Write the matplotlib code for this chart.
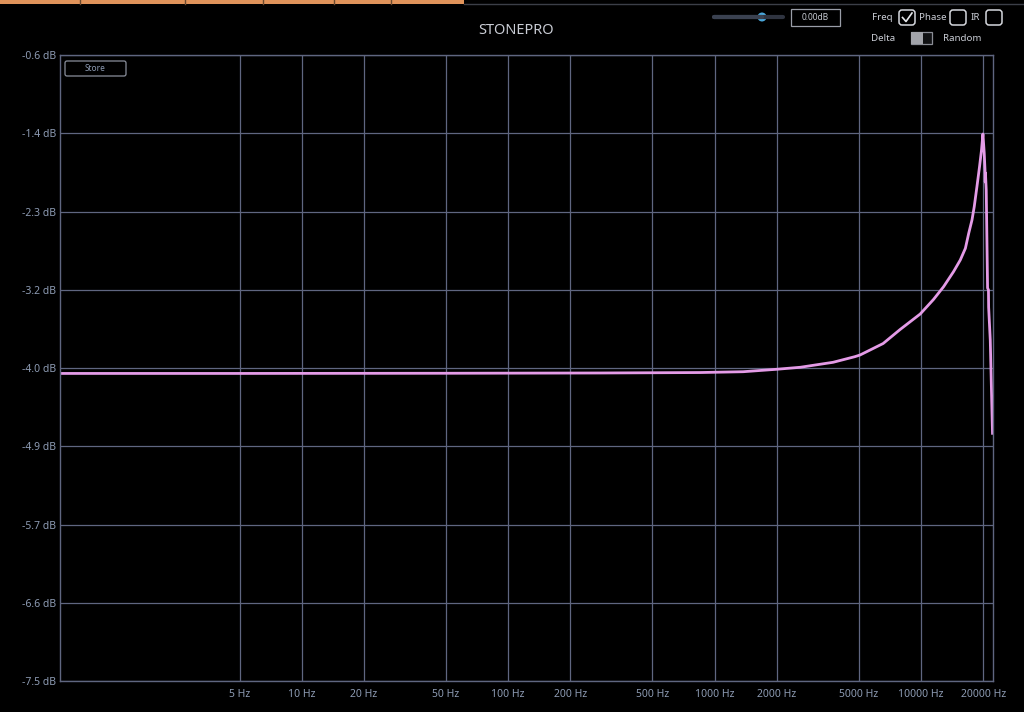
import numpy as np
import matplotlib
matplotlib.use("Agg")
import matplotlib.pyplot as plt
from matplotlib.patches import Rectangle, FancyBboxPatch, Circle

plt.rcParams['font.family'] = ['Noto Sans', 'DejaVu Sans']

# frequency response
freq_hz = [0.675, 5, 50, 279, 851, 1374, 2000, 2600, 3750, 4780, 5060,
           6550, 7920, 9900, 11480, 12850, 14360, 15480, 16390, 17010,
           17640, 18090, 18640, 19190, 19620, 19930, 20220, 20400, 20450,
           20500, 20680, 20990, 21200, 21240, 21630, 22180]
gain_db = [-4.11, -4.11, -4.108, -4.105, -4.100, -4.091, -4.064, -4.042,
           -3.987, -3.925, -3.907, -3.78, -3.625, -3.455, -3.295, -3.154,
           -2.988, -2.860, -2.731, -2.565, -2.419, -2.272, -2.052, -1.831,
           -1.647, -1.471, -1.680, -1.87, -2.00, -1.90, -2.088, -3.168,
           -3.19, -3.38, -3.741, -4.77]

x_ticks = [5, 10, 20, 50, 100, 200, 500, 1000, 2000, 5000, 10000, 20000]
x_labels = [f"{v} Hz" for v in x_ticks]
y_labels = ["-0.6 dB", "-1.4 dB", "-2.3 dB", "-3.2 dB", "-4.0 dB",
            "-4.9 dB", "-5.7 dB", "-6.6 dB", "-7.5 dB"]

grid_col = '#5f6680'
text_col = '#8d9bb3'
curve_col = '#e49be7'

fig = plt.figure(figsize=(10.24, 7.12), dpi=100, facecolor='black')
ax = fig.add_axes([60 / 1024, 1 - 681 / 712, 933 / 1024, 626 / 712])
ax.set_facecolor('black')

ax.plot(freq_hz, gain_db, color=curve_col, lw=2, solid_joinstyle='round')

ax.set_xscale('log')
ax.set_xlim(0.675, 22300)
ax.set_ylim(-7.5, -0.6)
ax.set_xticks(x_ticks)
ax.set_xticklabels(x_labels)
ax.minorticks_off()
ax.set_yticks(np.linspace(-0.6, -7.5, len(y_labels)))
ax.set_yticklabels(y_labels)
ax.tick_params(length=0, colors=text_col, labelsize=7.5)
ax.tick_params(axis='x', pad=6)
ax.tick_params(axis='y', pad=3)
ax.grid(True, color=grid_col, lw=0.9)
for s in ax.spines.values():
    s.set_color(grid_col)
    s.set_linewidth(1)

# overlay for the plugin UI bits, in pixel coordinates
ui = fig.add_axes([0, 0, 1, 1], facecolor='none')
ui.set_xlim(0, 1024)
ui.set_ylim(712, 0)
ui.axis('off')

ui.add_patch(Rectangle((0, 0), 464, 3.5, color='#e0935a', lw=0))
for xd in [80, 185, 263, 334, 391]:
    ui.plot([xd, xd], [0, 3.5], color='#6b4a30', lw=1)
ui.plot([464, 1024], [3.5, 3.5], color='#3c3f48', lw=1)

ui.text(516, 30, "STONEPRO", color='#c9ccd4', fontsize=10.5,
        ha='center', va='center')

ui.add_patch(FancyBboxPatch((65, 61), 61, 15, boxstyle="round,pad=0,rounding_size=2",
                            fc='none', ec='#8a8f9c', lw=0.9))
ui.text(95.5, 68.5, "Store", color=text_col, fontsize=6, ha='center', va='center')

# slider
ui.plot([714, 783], [17, 17], color='#2f3440', lw=3, solid_capstyle='round')
ui.plot([714, 762], [17, 17], color='#3a4150', lw=3, solid_capstyle='round')
ui.add_patch(Circle((762, 17), 3.8, color='#4aa8dc'))
ui.add_patch(Rectangle((791, 9), 49, 17, fc='none', ec='#9a9ea8', lw=0.9))
ui.text(815.5, 17.5, "0.00dB", color='#c9ccd4', fontsize=6, ha='center', va='center')

# checkboxes
ui.text(882, 18, "Freq", color='#c9ccd4', fontsize=7, ha='center', va='center')
for x0 in [899, 950, 986]:
    ui.add_patch(FancyBboxPatch((x0, 10), 16, 15, boxstyle="round,pad=0,rounding_size=3",
                                fc='none', ec='#d6d8de', lw=1.1))
ui.plot([902.5, 906, 912], [17.5, 21.5, 13], color='#e6e8ec', lw=1.2)
ui.text(933, 18, "Phase", color='#c9ccd4', fontsize=7, ha='center', va='center')
ui.text(975.5, 18, "IR", color='#c9ccd4', fontsize=7, ha='center', va='center')

# toggle
ui.text(883, 38.5, "Delta", color='#c9ccd4', fontsize=7, ha='center', va='center')
ui.add_patch(Rectangle((911, 32), 21, 12, fc='#111214', ec='#8a8d95', lw=0.9))
ui.add_patch(Rectangle((911, 32), 12, 12, fc='#a2a4aa', lw=0))
ui.text(962, 38.5, "Random", color='#c9ccd4', fontsize=7, ha='center', va='center')

fig.savefig("out.png", dpi=100, facecolor='black')
